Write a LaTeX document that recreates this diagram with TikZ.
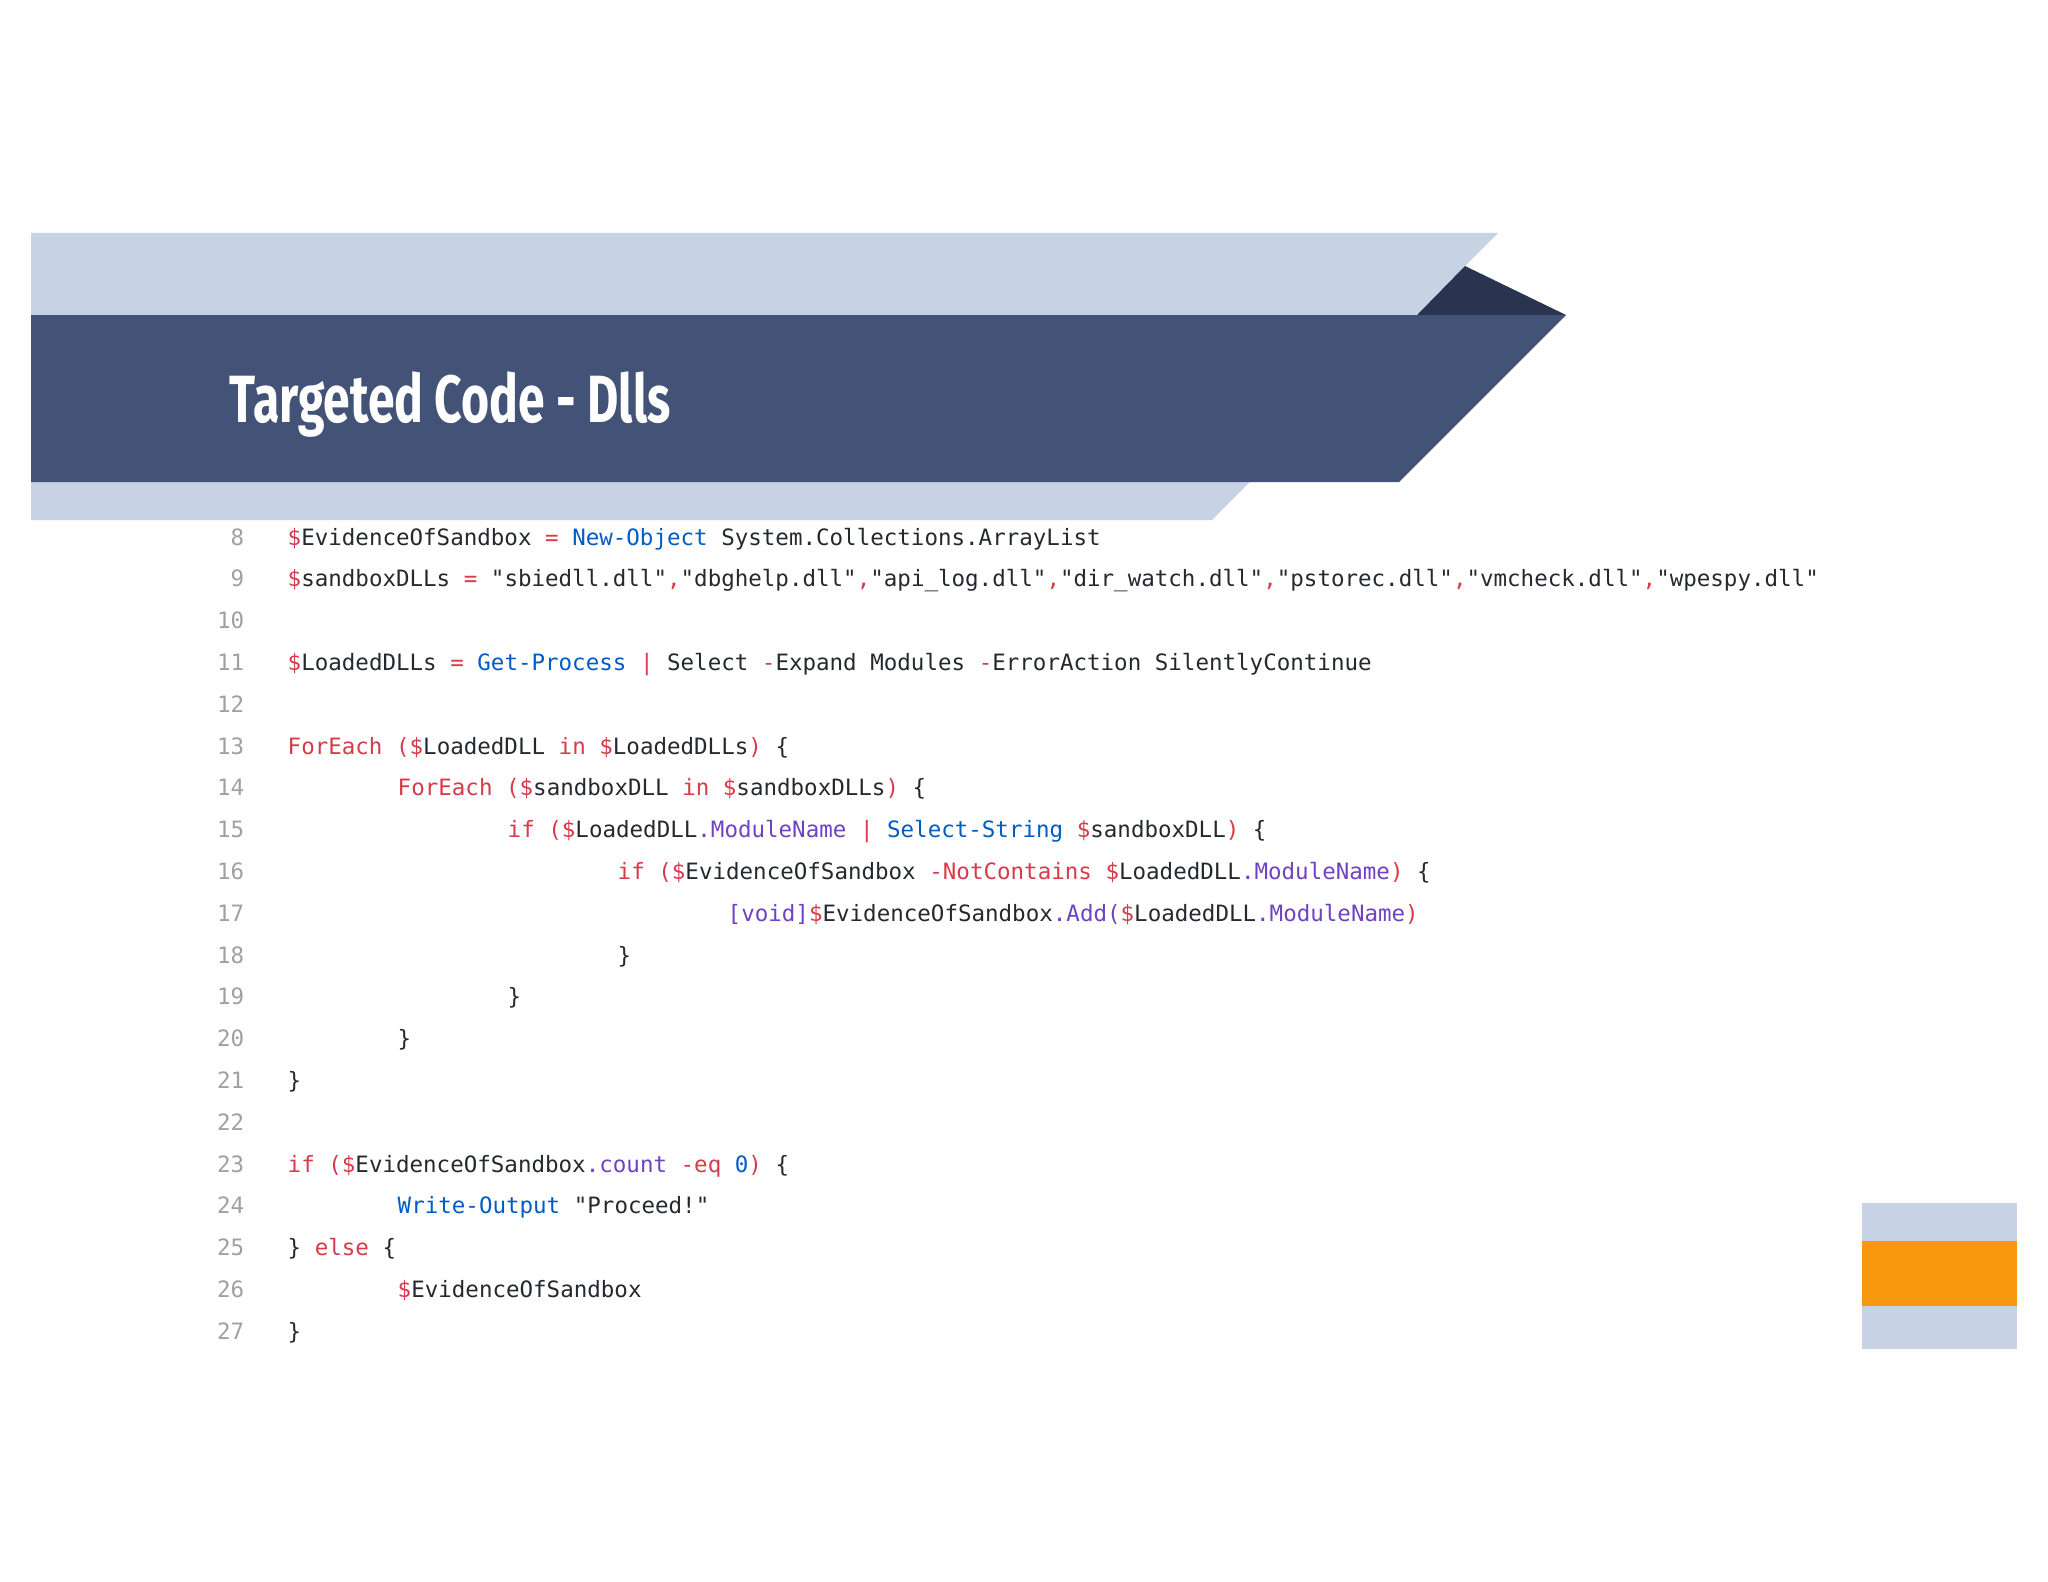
\documentclass[tikz,border=0pt]{standalone}
\usepackage{fontspec}
\newfontfamily\cf{DejaVu Sans Mono}
\newfontfamily\tf{Fira Sans}
\definecolor{lband}{HTML}{C7D2E4}
\definecolor{dband}{HTML}{435378}
\definecolor{dtri}{HTML}{2A3350}
\definecolor{org}{HTML}{F7980F}
\definecolor{kr}{HTML}{D73A49}
\definecolor{kb}{HTML}{005CC5}
\definecolor{kp}{HTML}{6F42C1}
\definecolor{kt}{HTML}{24292E}
\definecolor{kn}{HTML}{A0A0A0}
\newcommand\R[1]{\textcolor{kr}{#1}}
\newcommand\B[1]{\textcolor{kb}{#1}}
\newcommand\Pu[1]{\textcolor{kp}{#1}}
\newcommand\D{\R{\$}}
\begin{document}
\begin{tikzpicture}[x=0.01cm,y=-0.01cm,
  code/.style={anchor=base west,inner sep=0,font=\cf\fontsize{6.4pt}{7pt}\selectfont,text=kt},
  num/.style={anchor=base east,inner sep=0,font=\cf\fontsize{6.4pt}{7pt}\selectfont,text=kn}]
\useasboundingbox (0,0) rectangle (2048,1582);
\fill[lband] (31,233) -- (1498,233) -- (1212,520) -- (31,520) -- cycle;
\fill[dtri] (1417,315) -- (1465,266) -- (1566,315) -- cycle;
\fill[dband] (31,315) -- (1566,315) -- (1399,482) -- (31,482) -- cycle;
\node[anchor=base west,inner sep=0,text=white,font=\tf\bfseries\fontsize{19pt}{22pt}\selectfont] (title) at (229,422) {\scalebox{0.72}[1]{Targeted Code - Dlls}};
\fill[lband] (1862,1203) rectangle (2017,1349);
\fill[org] (1862,1241) rectangle (2017,1306);
\foreach \n [count=\i from 0] in {8,...,27}
  \node[num] (n\n) at (245,545+41.8*\i) {\n};
\def\L#1{545+41.8*(#1-8)}
\node[code] (c8) at (287,{\L{8}}) {\D EvidenceOfSandbox \R{=} \B{New-Object} System.Collections.ArrayList};
\node[code] (c9) at (287,{\L{9}}) {\D sandboxDLLs \R{=} "sbiedll.dll"\R{,}"dbghelp.dll"\R{,}"api\_log.dll"\R{,}"dir\_watch.dll"\R{,}"pstorec.dll"\R{,}"vmcheck.dll"\R{,}"wpespy.dll"};
\node[code] (c11) at (287,{\L{11}}) {\D LoadedDLLs \R{=} \B{Get-Process} \R{|} Select \R{-}Expand Modules \R{-}ErrorAction SilentlyContinue};
\node[code] (c13) at (287,{\L{13}}) {\R{ForEach (}\D LoadedDLL \R{in} \D LoadedDLLs\R{)} \{};
\node[code] (c14) at (397,{\L{14}}) {\R{ForEach (}\D sandboxDLL \R{in} \D sandboxDLLs\R{)} \{};
\node[code] (c15) at (507,{\L{15}}) {\R{if (}\D LoadedDLL\Pu{.ModuleName} \R{|} \B{Select-String} \D sandboxDLL\R{)} \{};
\node[code] (c16) at (617,{\L{16}}) {\R{if (}\D EvidenceOfSandbox \R{-NotContains} \D LoadedDLL\Pu{.ModuleName}\R{)} \{};
\node[code] (c17) at (727,{\L{17}}) {\Pu{[void]}\D EvidenceOfSandbox\Pu{.Add(}\D LoadedDLL\Pu{.ModuleName}\R{)}};
\node[code] (c18) at (617,{\L{18}}) {\}};
\node[code] (c19) at (507,{\L{19}}) {\}};
\node[code] (c20) at (397,{\L{20}}) {\}};
\node[code] (c21) at (287,{\L{21}}) {\}};
\node[code] (c23) at (287,{\L{23}}) {\R{if (}\D EvidenceOfSandbox\Pu{.count} \R{-eq} \B{0}\R{)} \{};
\node[code] (c24) at (397,{\L{24}}) {\B{Write-Output} "Proceed!"};
\node[code] (c25) at (287,{\L{25}}) {\} \R{else} \{};
\node[code] (c26) at (397,{\L{26}}) {\D EvidenceOfSandbox};
\node[code] (c27) at (287,{\L{27}}) {\}};
\end{tikzpicture}
\end{document}
